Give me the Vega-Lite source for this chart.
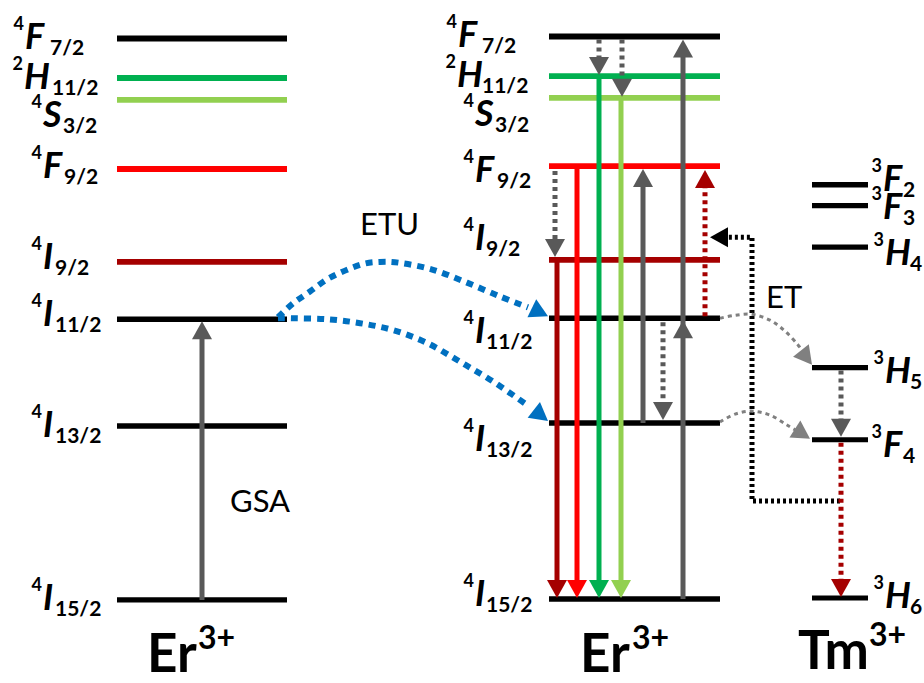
{
  "$schema": "https://vega.github.io/schema/vega-lite/v6.json",
  "width": 924,
  "height": 683,
  "autosize": {"type": "fit", "contains": "padding"},
  "padding": 0,
  "background": "white",
  "config": {"view": {"stroke": null}},
  "datasets": {
    "levels": [
      {"ion": "Er-a", "state": "4F7/2", "y": 39, "x1": 117, "x2": 287},
      {"ion": "Er-a", "state": "2H11/2", "y": 79, "x1": 117, "x2": 287},
      {"ion": "Er-a", "state": "4S3/2", "y": 101, "x1": 117, "x2": 287},
      {"ion": "Er-a", "state": "4F9/2", "y": 171, "x1": 117, "x2": 287},
      {"ion": "Er-a", "state": "4I9/2", "y": 265, "x1": 117, "x2": 287},
      {"ion": "Er-a", "state": "4I11/2", "y": 323, "x1": 117, "x2": 287},
      {"ion": "Er-a", "state": "4I13/2", "y": 431, "x1": 117, "x2": 287},
      {"ion": "Er-a", "state": "4I15/2", "y": 607, "x1": 117, "x2": 287},
      {"ion": "Er-b", "state": "4F7/2", "y": 37, "x1": 549, "x2": 720},
      {"ion": "Er-b", "state": "2H11/2", "y": 77, "x1": 549, "x2": 720},
      {"ion": "Er-b", "state": "4S3/2", "y": 99, "x1": 549, "x2": 720},
      {"ion": "Er-b", "state": "4F9/2", "y": 168, "x1": 549, "x2": 720},
      {"ion": "Er-b", "state": "4I9/2", "y": 263, "x1": 549, "x2": 720},
      {"ion": "Er-b", "state": "4I11/2", "y": 322, "x1": 549, "x2": 720},
      {"ion": "Er-b", "state": "4I13/2", "y": 428, "x1": 549, "x2": 720},
      {"ion": "Er-b", "state": "4I15/2", "y": 606, "x1": 549, "x2": 720},
      {"ion": "Tm", "state": "3F2", "y": 187, "x1": 812, "x2": 868},
      {"ion": "Tm", "state": "3F3", "y": 208, "x1": 812, "x2": 868},
      {"ion": "Tm", "state": "3H4", "y": 250, "x1": 812, "x2": 868},
      {"ion": "Tm", "state": "3H5", "y": 372, "x1": 812, "x2": 868},
      {"ion": "Tm", "state": "3F4", "y": 445, "x1": 812, "x2": 868},
      {"ion": "Tm", "state": "3H6", "y": 605, "x1": 812, "x2": 868}
    ],
    "paths": [
      {"path": "gsa", "kind": "abs", "i": 0, "x": 202, "y": 607},
      {"path": "gsa", "kind": "abs", "i": 1, "x": 202, "y": 342},
      {"path": "m-dr", "kind": "em-darkred", "i": 0, "x": 557, "y": 263},
      {"path": "m-dr", "kind": "em-darkred", "i": 1, "x": 557, "y": 590},
      {"path": "m-r", "kind": "em-red", "i": 0, "x": 577, "y": 168},
      {"path": "m-r", "kind": "em-red", "i": 1, "x": 577, "y": 590},
      {"path": "m-g", "kind": "em-green", "i": 0, "x": 599, "y": 77},
      {"path": "m-g", "kind": "em-green", "i": 1, "x": 599, "y": 590},
      {"path": "m-lg", "kind": "em-lightgreen", "i": 0, "x": 621, "y": 99},
      {"path": "m-lg", "kind": "em-lightgreen", "i": 1, "x": 621, "y": 590},
      {"path": "m-a1", "kind": "abs", "i": 0, "x": 643, "y": 428},
      {"path": "m-a1", "kind": "abs", "i": 1, "x": 643, "y": 186},
      {"path": "m-a2", "kind": "abs", "i": 0, "x": 683, "y": 606},
      {"path": "m-a2", "kind": "abs", "i": 1, "x": 683, "y": 55},
      {"path": "r1", "kind": "relax", "i": 0, "x": 599, "y": 40},
      {"path": "r1", "kind": "relax", "i": 1, "x": 599, "y": 64},
      {"path": "r2", "kind": "relax", "i": 0, "x": 622, "y": 40},
      {"path": "r2", "kind": "relax", "i": 1, "x": 622, "y": 86},
      {"path": "r3", "kind": "relax", "i": 0, "x": 555, "y": 173},
      {"path": "r3", "kind": "relax", "i": 1, "x": 555, "y": 247},
      {"path": "r4", "kind": "relax", "i": 0, "x": 663, "y": 326},
      {"path": "r4", "kind": "relax", "i": 1, "x": 663, "y": 412},
      {"path": "u1", "kind": "up-darkred", "i": 0, "x": 705, "y": 320},
      {"path": "u1", "kind": "up-darkred", "i": 1, "x": 705, "y": 186},
      {"path": "tb", "kind": "et-back", "i": 0, "x": 840, "y": 507},
      {"path": "tb", "kind": "et-back", "i": 1, "x": 752, "y": 507},
      {"path": "tb", "kind": "et-back", "i": 2, "x": 752, "y": 240},
      {"path": "tb", "kind": "et-back", "i": 3, "x": 721, "y": 240},
      {"path": "c1", "kind": "et", "i": 0, "x": 720, "y": 322},
      {"path": "c1", "kind": "et", "i": 1, "x": 735, "y": 319},
      {"path": "c1", "kind": "et", "i": 2, "x": 752, "y": 318},
      {"path": "c1", "kind": "et", "i": 3, "x": 770, "y": 324},
      {"path": "c1", "kind": "et", "i": 4, "x": 785, "y": 335},
      {"path": "c1", "kind": "et", "i": 5, "x": 798, "y": 349},
      {"path": "c1", "kind": "et", "i": 6, "x": 804, "y": 358},
      {"path": "c2", "kind": "et", "i": 0, "x": 720, "y": 427},
      {"path": "c2", "kind": "et", "i": 1, "x": 735, "y": 419},
      {"path": "c2", "kind": "et", "i": 2, "x": 752, "y": 416},
      {"path": "c2", "kind": "et", "i": 3, "x": 770, "y": 420},
      {"path": "c2", "kind": "et", "i": 4, "x": 787, "y": 430},
      {"path": "c2", "kind": "et", "i": 5, "x": 800, "y": 438},
      {"path": "t1", "kind": "relax", "i": 0, "x": 841, "y": 375},
      {"path": "t1", "kind": "relax", "i": 1, "x": 841, "y": 428},
      {"path": "t2", "kind": "tm-emit", "i": 0, "x": 841, "y": 448},
      {"path": "t2", "kind": "tm-emit", "i": 1, "x": 841, "y": 589},
      {"path": "b1", "kind": "etu", "i": 0, "x": 278, "y": 321},
      {"path": "b1", "kind": "etu", "i": 1, "x": 293, "y": 307},
      {"path": "b1", "kind": "etu", "i": 2, "x": 310, "y": 295},
      {"path": "b1", "kind": "etu", "i": 3, "x": 330, "y": 281},
      {"path": "b1", "kind": "etu", "i": 4, "x": 360, "y": 268},
      {"path": "b1", "kind": "etu", "i": 5, "x": 380, "y": 265},
      {"path": "b1", "kind": "etu", "i": 6, "x": 400, "y": 266},
      {"path": "b1", "kind": "etu", "i": 7, "x": 433, "y": 273},
      {"path": "b1", "kind": "etu", "i": 8, "x": 467, "y": 286},
      {"path": "b1", "kind": "etu", "i": 9, "x": 500, "y": 300},
      {"path": "b1", "kind": "etu", "i": 10, "x": 528, "y": 311},
      {"path": "b2", "kind": "etu", "i": 0, "x": 278, "y": 322},
      {"path": "b2", "kind": "etu", "i": 1, "x": 293, "y": 322},
      {"path": "b2", "kind": "etu", "i": 2, "x": 327, "y": 323},
      {"path": "b2", "kind": "etu", "i": 3, "x": 360, "y": 327},
      {"path": "b2", "kind": "etu", "i": 4, "x": 393, "y": 334},
      {"path": "b2", "kind": "etu", "i": 5, "x": 427, "y": 347},
      {"path": "b2", "kind": "etu", "i": 6, "x": 460, "y": 366},
      {"path": "b2", "kind": "etu", "i": 7, "x": 493, "y": 386},
      {"path": "b2", "kind": "etu", "i": 8, "x": 526, "y": 409}
    ],
    "heads": [
      {"path": "gsa", "kind": "abs", "x": 202, "y": 325, "heading": -90},
      {"path": "m-dr", "kind": "em-darkred", "x": 557, "y": 605, "heading": 90},
      {"path": "m-r", "kind": "em-red", "x": 577, "y": 605, "heading": 90},
      {"path": "m-g", "kind": "em-green", "x": 599, "y": 605, "heading": 90},
      {"path": "m-lg", "kind": "em-lightgreen", "x": 621, "y": 605, "heading": 90},
      {"path": "m-a1", "kind": "abs", "x": 643, "y": 171, "heading": -90},
      {"path": "m-a2", "kind": "abs", "x": 683, "y": 324, "heading": -90},
      {"path": "m-a2", "kind": "abs", "x": 683, "y": 40, "heading": -90},
      {"path": "r1", "kind": "relax", "x": 599, "y": 76, "heading": 90},
      {"path": "r2", "kind": "relax", "x": 622, "y": 98, "heading": 90},
      {"path": "r3", "kind": "relax", "x": 555, "y": 260, "heading": 90},
      {"path": "r4", "kind": "relax", "x": 663, "y": 425, "heading": 90},
      {"path": "u1", "kind": "up-darkred", "x": 705, "y": 172, "heading": -90},
      {"path": "tb", "kind": "et-back", "x": 710, "y": 240, "heading": 180},
      {"path": "c1", "kind": "et", "x": 812, "y": 369, "heading": 52},
      {"path": "c2", "kind": "et", "x": 810, "y": 444, "heading": 33},
      {"path": "t1", "kind": "relax", "x": 841, "y": 442, "heading": 90},
      {"path": "t2", "kind": "tm-emit", "x": 841, "y": 604, "heading": 90},
      {"path": "b1", "kind": "etu", "x": 548, "y": 320, "heading": 26},
      {"path": "b2", "kind": "etu", "x": 548, "y": 426, "heading": 38}
    ],
    "labels": [
      {"sup": "4", "main": "F", "sub": "7/2", "x": 25, "y": 50, "xsub": 50},
      {"sup": "2", "main": "H", "sub": "11/2", "x": 24, "y": 90, "xsub": 52},
      {"sup": "4", "main": "S", "sub": "3/2", "x": 43, "y": 128, "xsub": 63},
      {"sup": "4", "main": "F", "sub": "9/2", "x": 43, "y": 180, "xsub": 64},
      {"sup": "4", "main": "I", "sub": "9/2", "x": 43, "y": 272, "xsub": 55},
      {"sup": "4", "main": "I", "sub": "11/2", "x": 43, "y": 330, "xsub": 55},
      {"sup": "4", "main": "I", "sub": "13/2", "x": 43, "y": 442, "xsub": 55},
      {"sup": "4", "main": "I", "sub": "15/2", "x": 43, "y": 617, "xsub": 55},
      {"sup": "4", "main": "F", "sub": "7/2", "x": 458, "y": 48, "xsub": 482},
      {"sup": "2", "main": "H", "sub": "11/2", "x": 457, "y": 88, "xsub": 482},
      {"sup": "4", "main": "S", "sub": "3/2", "x": 475, "y": 127, "xsub": 495},
      {"sup": "4", "main": "F", "sub": "9/2", "x": 475, "y": 184, "xsub": 497},
      {"sup": "4", "main": "I", "sub": "9/2", "x": 475, "y": 253, "xsub": 486},
      {"sup": "4", "main": "I", "sub": "11/2", "x": 475, "y": 347, "xsub": 486},
      {"sup": "4", "main": "I", "sub": "13/2", "x": 475, "y": 456, "xsub": 486},
      {"sup": "4", "main": "I", "sub": "15/2", "x": 475, "y": 613, "xsub": 486},
      {"sup": "3", "main": "F", "sub": "2", "x": 883, "y": 193, "xsub": 903},
      {"sup": "3", "main": "F", "sub": "3", "x": 883, "y": 222, "xsub": 903},
      {"sup": "3", "main": "H", "sub": "4", "x": 885, "y": 268, "xsub": 910},
      {"sup": "3", "main": "H", "sub": "5", "x": 885, "y": 388, "xsub": 910},
      {"sup": "3", "main": "F", "sub": "4", "x": 883, "y": 462, "xsub": 903},
      {"sup": "3", "main": "H", "sub": "6", "x": 885, "y": 615, "xsub": 910}
    ],
    "ions": [
      {"ion": "Er", "charge": "3+", "x": 147, "y": 680, "xc": 198},
      {"ion": "Er", "charge": "3+", "x": 580, "y": 680, "xc": 632},
      {"ion": "Tm", "charge": "3+", "x": 798, "y": 677, "xc": 869}
    ],
    "notes": [
      {"text": "GSA", "x": 230, "y": 518},
      {"text": "ETU", "x": 360, "y": 238},
      {"text": "ET", "x": 766, "y": 312}
    ]
  },
  "layer": [
    {
      "data": {"name": "levels"},
      "mark": {"type": "rule", "strokeCap": "butt"},
      "encoding": {
        "x": {"field": "x1", "type": "quantitative", "scale": {"domain": [0, 924], "nice": false, "zero": false}, "axis": null},
        "x2": {"field": "x2"},
        "y": {"field": "y", "type": "quantitative", "scale": {"domain": [0, 683], "nice": false, "zero": false, "reverse": true}, "axis": null},
        "color": {
          "field": "state", "type": "nominal", "legend": null,
          "scale": {
            "domain": ["4F7/2", "2H11/2", "4S3/2", "4F9/2", "4I9/2", "4I11/2", "4I13/2", "4I15/2", "3F2", "3F3", "3H4", "3H5", "3F4", "3H6"],
            "range": ["#000000", "#00b050", "#92d050", "#ff0000", "#a50000", "#000000", "#000000", "#000000", "#000000", "#000000", "#000000", "#000000", "#000000", "#000000"]
          }
        },
        "strokeWidth": {
          "field": "state", "type": "ordinal", "legend": null,
          "scale": {
            "domain": ["4F7/2", "2H11/2", "4S3/2", "4F9/2", "4I9/2", "4I11/2", "4I13/2", "4I15/2", "3F2", "3F3", "3H4", "3H5", "3F4", "3H6"],
            "range": [6, 5, 5, 9, 6, 6, 6, 6, 6, 6, 6, 6, 6, 6]
          }
        }
      }
    },
    {
      "data": {"name": "paths"},
      "transform": [{"filter": "datum.kind !== 'etu' && datum.kind !== 'et'"}],
      "mark": {"type": "line", "strokeCap": "butt", "strokeJoin": "miter"},
      "encoding": {
        "x": {"field": "x", "type": "quantitative", "scale": {"domain": [0, 924], "nice": false, "zero": false}, "axis": null},
        "y": {"field": "y", "type": "quantitative", "scale": {"domain": [0, 683], "nice": false, "zero": false, "reverse": true}, "axis": null},
        "detail": {"field": "path"},
        "order": {"field": "i", "type": "quantitative"},
        "color": {
          "field": "kind", "type": "nominal", "legend": null,
          "scale": {
            "domain": ["em-darkred", "em-red", "em-green", "em-lightgreen", "abs", "relax", "up-darkred", "etu", "et", "et-back", "tm-emit"],
            "range": ["#a50000", "#ff0000", "#00b050", "#92d050", "#595959", "#595959", "#a50000", "#0070c0", "#808080", "#000000", "#a50000"]
          }
        },
        "strokeDash": {
          "field": "kind", "type": "nominal", "legend": null,
          "scale": {
            "domain": ["em-darkred", "em-red", "em-green", "em-lightgreen", "abs", "relax", "up-darkred", "etu", "et", "et-back", "tm-emit"],
            "range": [[1, 0], [1, 0], [1, 0], [1, 0], [1, 0], [4, 4], [4, 4], [7, 6], [4, 4], [3, 3], [4, 4]]
          }
        },
        "strokeWidth": {
          "field": "kind", "type": "ordinal", "legend": null,
          "scale": {
            "domain": ["em-darkred", "em-red", "em-green", "em-lightgreen", "abs", "relax", "up-darkred", "etu", "et", "et-back", "tm-emit"],
            "range": [5, 5, 5, 5, 5, 4, 4, 6, 3, 3, 4]
          }
        }
      }
    },
    {
      "data": {"name": "paths"},
      "transform": [{"filter": "datum.kind === 'etu' || datum.kind === 'et'"}],
      "mark": {"type": "line", "strokeCap": "butt", "interpolate": "cardinal"},
      "encoding": {
        "x": {"field": "x", "type": "quantitative", "scale": {"domain": [0, 924], "nice": false, "zero": false}, "axis": null},
        "y": {"field": "y", "type": "quantitative", "scale": {"domain": [0, 683], "nice": false, "zero": false, "reverse": true}, "axis": null},
        "detail": {"field": "path"},
        "order": {"field": "i", "type": "quantitative"},
        "color": {
          "field": "kind", "type": "nominal", "legend": null,
          "scale": {"domain": ["etu", "et"], "range": ["#0070c0", "#808080"]}
        },
        "strokeDash": {
          "field": "kind", "type": "nominal", "legend": null,
          "scale": {"domain": ["etu", "et"], "range": [[7, 6], [4, 4]]}
        },
        "strokeWidth": {
          "field": "kind", "type": "ordinal", "legend": null,
          "scale": {"domain": ["etu", "et"], "range": [6, 3]}
        }
      }
    },
    {
      "data": {"name": "heads"},
      "mark": {"type": "point", "shape": "M0,0L-1.8,-1L-1.8,1Z", "filled": true, "opacity": 1, "strokeWidth": 0},
      "encoding": {
        "x": {"field": "x", "type": "quantitative", "scale": {"domain": [0, 924], "nice": false, "zero": false}, "axis": null},
        "y": {"field": "y", "type": "quantitative", "scale": {"domain": [0, 683], "nice": false, "zero": false, "reverse": true}, "axis": null},
        "angle": {"field": "heading", "type": "quantitative", "scale": null},
        "color": {
          "field": "kind", "type": "nominal", "legend": null,
          "scale": {
            "domain": ["em-darkred", "em-red", "em-green", "em-lightgreen", "abs", "relax", "up-darkred", "etu", "et", "et-back", "tm-emit"],
            "range": ["#a50000", "#ff0000", "#00b050", "#92d050", "#595959", "#595959", "#a50000", "#0070c0", "#808080", "#000000", "#a50000"]
          }
        },
        "size": {
          "field": "kind", "type": "ordinal", "legend": null,
          "scale": {
            "domain": ["em-darkred", "em-red", "em-green", "em-lightgreen", "abs", "relax", "up-darkred", "etu", "et", "et-back", "tm-emit"],
            "range": [400, 400, 400, 400, 324, 225, 256, 576, 169, 169, 289]
          }
        }
      }
    },
    {
      "data": {"name": "labels"},
      "mark": {"type": "text", "font": "Lato", "fontWeight": "bold", "fontSize": 18, "align": "right", "baseline": "alphabetic", "dx": -1, "dy": -19, "color": "#000000"},
      "encoding": {
        "x": {"field": "x", "type": "quantitative", "scale": {"domain": [0, 924], "nice": false, "zero": false}, "axis": null},
        "y": {"field": "y", "type": "quantitative", "scale": {"domain": [0, 683], "nice": false, "zero": false, "reverse": true}, "axis": null},
        "text": {"field": "sup"}
      }
    },
    {
      "data": {"name": "labels"},
      "mark": {"type": "text", "font": "Lato", "fontWeight": "bold", "fontStyle": "italic", "fontSize": 36, "align": "left", "baseline": "alphabetic", "color": "#000000"},
      "encoding": {
        "x": {"field": "x", "type": "quantitative", "scale": {"domain": [0, 924], "nice": false, "zero": false}, "axis": null},
        "y": {"field": "y", "type": "quantitative", "scale": {"domain": [0, 683], "nice": false, "zero": false, "reverse": true}, "axis": null},
        "text": {"field": "main"}
      }
    },
    {
      "data": {"name": "labels"},
      "mark": {"type": "text", "font": "Lato", "fontWeight": "bold", "fontSize": 21, "align": "left", "baseline": "alphabetic", "dy": 6, "color": "#000000"},
      "encoding": {
        "x": {"field": "xsub", "type": "quantitative", "scale": {"domain": [0, 924], "nice": false, "zero": false}, "axis": null},
        "y": {"field": "y", "type": "quantitative", "scale": {"domain": [0, 683], "nice": false, "zero": false, "reverse": true}, "axis": null},
        "text": {"field": "sub"}
      }
    },
    {
      "data": {"name": "ions"},
      "mark": {"type": "text", "font": "Lato", "fontWeight": "bold", "fontSize": 53, "align": "left", "baseline": "alphabetic", "color": "#000000"},
      "encoding": {
        "x": {"field": "x", "type": "quantitative", "scale": {"domain": [0, 924], "nice": false, "zero": false}, "axis": null},
        "y": {"field": "y", "type": "quantitative", "scale": {"domain": [0, 683], "nice": false, "zero": false, "reverse": true}, "axis": null},
        "text": {"field": "ion"}
      }
    },
    {
      "data": {"name": "ions"},
      "mark": {"type": "text", "font": "Lato", "fontWeight": "bold", "fontSize": 32, "align": "left", "baseline": "alphabetic", "dy": -23, "color": "#000000"},
      "encoding": {
        "x": {"field": "xc", "type": "quantitative", "scale": {"domain": [0, 924], "nice": false, "zero": false}, "axis": null},
        "y": {"field": "y", "type": "quantitative", "scale": {"domain": [0, 683], "nice": false, "zero": false, "reverse": true}, "axis": null},
        "text": {"field": "charge"}
      }
    },
    {
      "data": {"name": "notes"},
      "mark": {"type": "text", "font": "Lato", "fontSize": 31, "align": "left", "baseline": "alphabetic", "color": "#000000"},
      "encoding": {
        "x": {"field": "x", "type": "quantitative", "scale": {"domain": [0, 924], "nice": false, "zero": false}, "axis": null},
        "y": {"field": "y", "type": "quantitative", "scale": {"domain": [0, 683], "nice": false, "zero": false, "reverse": true}, "axis": null},
        "text": {"field": "text"}
      }
    }
  ],
  "resolve": {"scale": {"color": "independent", "strokeDash": "independent", "strokeWidth": "independent", "size": "independent"}}
}
